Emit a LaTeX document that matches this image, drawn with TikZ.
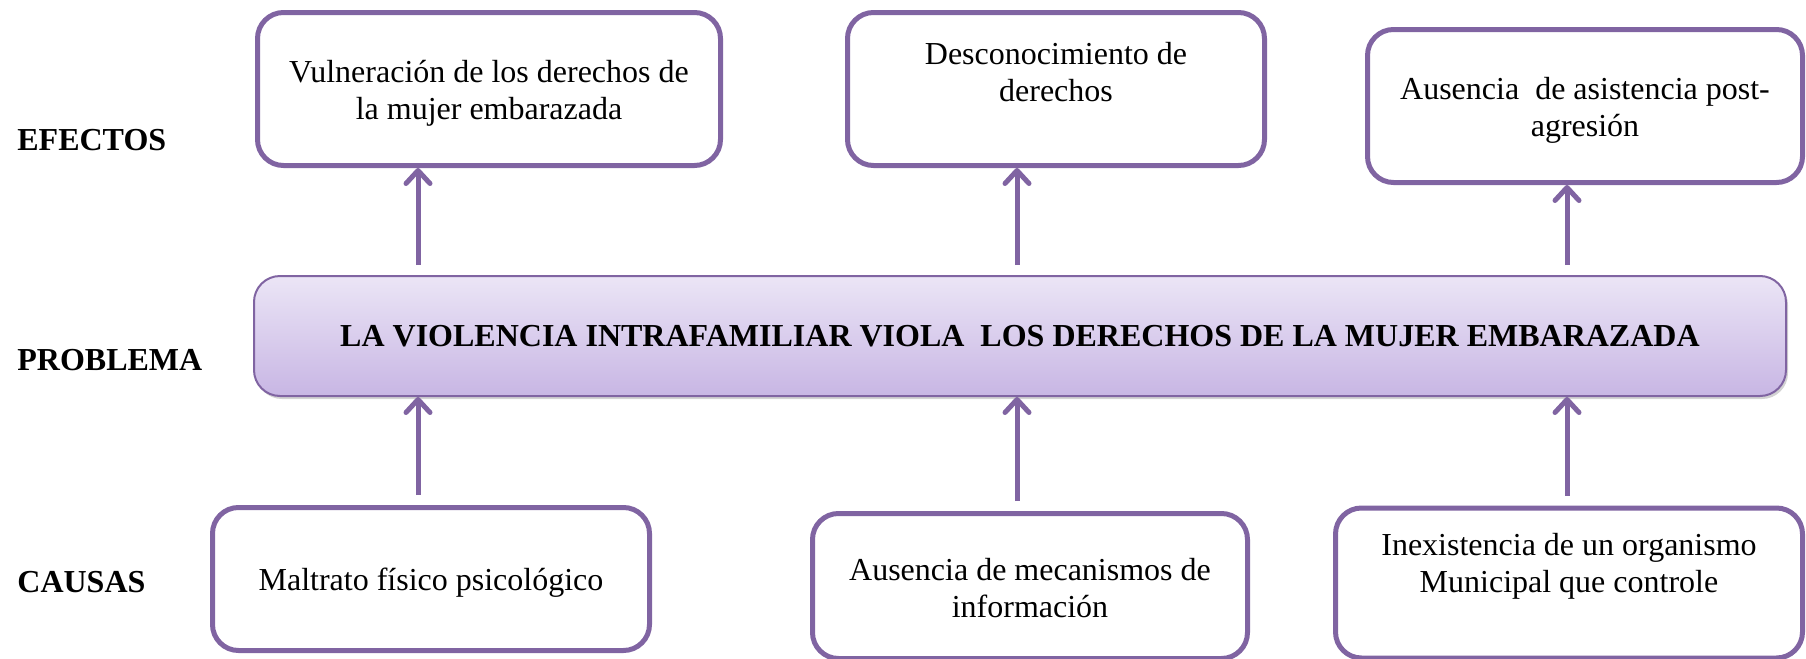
\documentclass[tikz,border=0pt]{standalone}
\usepackage{fontspec}
\setmainfont{Liberation Serif}
\usetikzlibrary{positioning,arrows.meta,shadows}
\definecolor{violeta}{RGB}{128,100,162}
\definecolor{lilaclaro}{RGB}{235,229,246}
\definecolor{lilaoscuro}{RGB}{200,182,228}

\begin{document}
\begin{tikzpicture}[x=0.5pt, y=-0.5pt,
		caja/.style={draw=violeta, line width=2.5pt, rounded corners=13pt, inner sep=0pt},
		texto/.style={inner sep=0pt, align=center, font=\fontsize{16pt}{18.5pt}\selectfont},
		etiqueta/.style={anchor=base west, inner sep=0pt, font=\fontsize{16pt}{19pt}\selectfont\bfseries},
		flecha/.style={draw=violeta, line width=2.5pt, -{Straight Barb[length=6.5pt,width=12pt,round]}, shorten <=5pt}]
	\useasboundingbox (0,0) rectangle (1806,659);
	% etiquetas
	\node[etiqueta] (efectos) at (17,150) {EFECTOS};
	\node[etiqueta] (problema) at (17,370) {PROBLEMA};
	\node[etiqueta] (causas) at (17,592) {CAUSAS};
	% problema
	\node[caja, line width=1pt, top color=lilaclaro, bottom color=lilaoscuro,
		drop shadow={opacity=0.35, shadow xshift=1pt, shadow yshift=-1.5pt},
		minimum width=766pt, minimum height=60pt, font=\fontsize{16pt}{19pt}\selectfont\bfseries]
		(prob) at (1020,336) {LA VIOLENCIA INTRAFAMILIAR VIOLA\ \ LOS DERECHOS DE LA MUJER EMBARAZADA};
	% efectos
	\node[caja, minimum width=231.5pt, minimum height=76.5pt] (efe1) at (489,89) {};
	\node[caja, minimum width=208.5pt, minimum height=76.5pt] (efe2) at (1056,89) {};
	\node[caja, minimum width=217.5pt, minimum height=76.5pt] (efe3) at (1585,106) {};
	\node[texto, below=24.7pt of efe1.north] (tefe1) {Vulneración de los derechos de\\la mujer embarazada};
	\node[texto, below=15.7pt of efe2.north] (tefe2) {Desconocimiento de\\derechos};
	\node[texto, below=25pt of efe3.north] (tefe3) {Ausencia\ \ de asistencia post-\\agresión};
	% causas
	\node[caja, minimum width=218.5pt, minimum height=71.5pt] (cau1) at (431,579) {};
	\node[caja, minimum width=217.5pt, minimum height=72.5pt] (cau2) at (1030,586) {};
	\node[caja, minimum width=233.5pt, minimum height=75pt] (cau3) at (1569,583) {};
	\node[texto, below=31.5pt of cau1.north] (tcau1) {Maltrato físico psicológico};
	\node[texto, below=23.5pt of cau2.north] (tcau2) {Ausencia de mecanismos de\\información};
	\node[texto, below=13.5pt of cau3.north] (tcau3) {Inexistencia de un organismo\\Municipal que controle};
	% flechas
	\coordinate (col1) at (418,0);
	\coordinate (col2) at (1017,0);
	\coordinate (col3) at (1567,0);
	\draw[flecha] (prob.north -| col1) -- (efe1.south -| col1);
	\draw[flecha] (prob.north -| col2) -- (efe2.south -| col2);
	\draw[flecha] (prob.north -| col3) -- (efe3.south -| col3);
	\draw[flecha] (cau1.north -| col1) -- (prob.south -| col1);
	\draw[flecha] (cau2.north -| col2) -- (prob.south -| col2);
	\draw[flecha] (cau3.north -| col3) -- (prob.south -| col3);
\end{tikzpicture}
\end{document}
